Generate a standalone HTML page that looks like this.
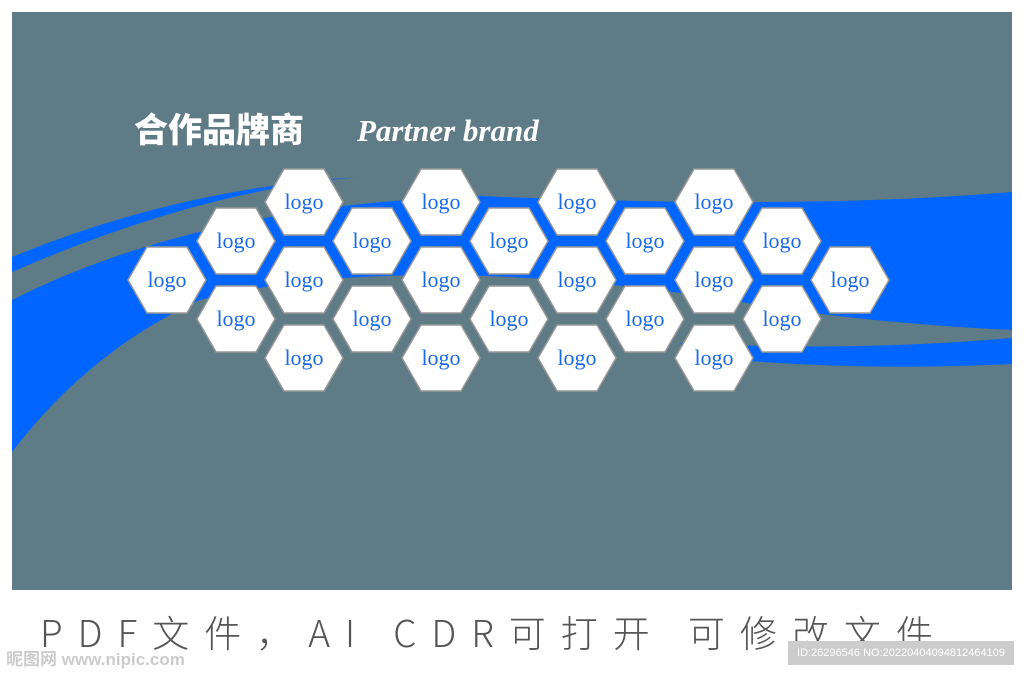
<!DOCTYPE html>
<html><head><meta charset="utf-8"><style>
body{margin:0;width:1024px;height:673px;background:#fff;overflow:hidden;position:relative;font-family:"Liberation Sans","Noto Sans CJK SC",sans-serif}
.t{position:absolute;left:40px;top:604px;font-size:37px;color:#555;letter-spacing:15px;font-weight:300;white-space:nowrap;font-family:"Noto Sans CJK SC",sans-serif}
</style></head><body>
<svg width="1024" height="673" style="position:absolute;left:0;top:0">
<rect x="12" y="12" width="1000" height="578" fill="#5e7b86"/>
<clipPath id="c"><rect x="12" y="12" width="1000" height="578"/></clipPath>
<g clip-path="url(#c)" fill="#0066ff">
<path d="M12,257 Q180,188 360,177 Q200,190 12,272 Z"/>
<path d="M12,300 Q200,205 480,196 Q800,210 1012,192 L1012,330 Q850,322 730,300 Q400,250 200,300 Q90,350 12,452 Z"/>
<path d="M680,343 Q850,352 1012,338 L1012,364 Q850,372 690,356 Z"/>
</g>
<text x="134" y="142" font-family="'Noto Sans CJK SC',sans-serif" font-weight="900" font-size="34" fill="#fff">合作品牌商</text>
<text x="357" y="141" font-family="'Liberation Serif',serif" font-style="italic" font-weight="bold" font-size="31" fill="#fff">Partner brand</text>
<g id="h" font-family="'Liberation Serif',serif" font-size="22" fill="#1a6be8" text-anchor="middle"></g>
</svg>
<div class="t">PDF文件，AI CDR可打开 可修改文件</div>
<div style="position:absolute;left:6px;top:645px;font-size:17px;color:#ccc;font-weight:bold">昵图网 www.nipic.com</div>
<div style="position:absolute;left:788px;top:641px;width:226px;height:24px;background:#ccc;color:#fff;font-size:11px;line-height:24px;text-align:center">ID:26296546 NO:20220404094812464109</div>
<script>
var g=document.getElementById('h'),s='';
var cols=[[167,[280]],[236,[241,319]],[304,[202,280,358]],[372,[241,319]],[441,[202,280,358]],[509,[241,319]],[577,[202,280,358]],[645,[241,319]],[714,[202,280,358]],[782,[241,319]],[850,[280]]];
cols.forEach(function(c){c[1].forEach(function(y){var x=c[0];
s+='<polygon points="'+(x-39)+','+y+' '+(x-20)+','+(y-33)+' '+(x+20)+','+(y-33)+' '+(x+39)+','+y+' '+(x+20)+','+(y+33)+' '+(x-20)+','+(y+33)+'" fill="#fff" stroke="#999" stroke-width="1.5"/>';
s+='<text x="'+x+'" y="'+(y+7)+'">logo</text>';});});
g.innerHTML=s;
</script>
</body></html>
